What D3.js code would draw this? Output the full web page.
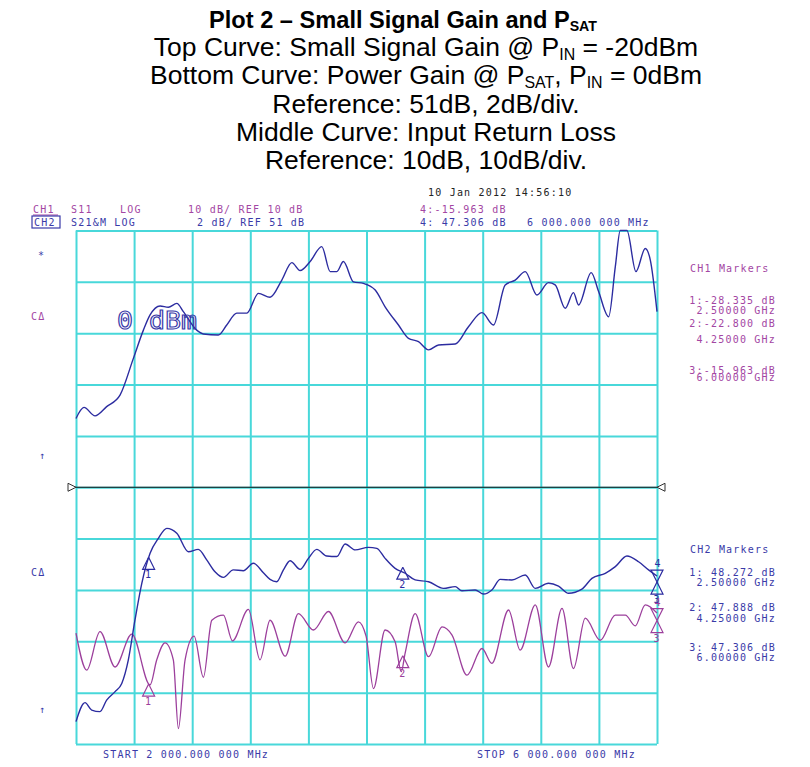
<!DOCTYPE html>
<html>
<head>
<meta charset="utf-8">
<script src="https://cdn.jsdelivr.net/npm/d3@7"></script>
<style>
  body { margin: 0; background: #fff; }
  svg { display: block; }
  .mono { font-family: "DejaVu Sans Mono", monospace; font-size: 10px; letter-spacing: 1.2px; }
  .cap { font-family: "Liberation Sans", Arial, sans-serif; }
</style>
</head>
<body>
<div id="chart"></div>
<script>
// frequency in GHz, values in dB
const topFreq = [2.000, 2.055, 2.131, 2.211, 2.303, 2.395, 2.464, 2.510, 2.579, 2.636, 2.694, 2.739, 2.831, 2.877,
  2.980, 3.038, 3.107, 3.176, 3.256, 3.336, 3.417, 3.486, 3.543, 3.612, 3.692, 3.750, 3.796, 3.841, 3.910, 3.979,
  4.060, 4.128, 4.220, 4.289, 4.358, 4.427, 4.496, 4.611, 4.702, 4.795, 4.874, 4.955, 5.024, 5.093, 5.173, 5.253,
  5.299, 5.368, 5.425, 5.460, 5.547, 5.598, 5.667, 5.713, 5.747, 5.793, 5.855, 5.919, 5.954, 6.000];
const topGain = [53.68, 54.11, 53.78, 54.14, 54.59, 56.02, 57.12, 57.71, 58.06, 58.01, 58.16, 57.84, 57.12, 56.97,
  56.93, 57.32, 57.78, 57.78, 58.55, 58.40, 59.07, 59.75, 59.44, 59.79, 60.37, 59.40, 59.40, 59.79, 59.00, 58.94,
  58.68, 58.03, 57.32, 56.80, 56.67, 56.35, 56.54, 56.58, 57.25, 57.80, 57.32, 58.88, 59.07, 59.40, 58.49, 58.97,
  58.88, 57.97, 58.58, 58.10, 59.36, 58.62, 57.64, 59.59, 61.00, 61.00, 59.40, 60.30, 59.85, 57.84];

const psatFreq = [2.000, 2.062, 2.108, 2.165, 2.211, 2.269, 2.315, 2.360, 2.406, 2.453, 2.510, 2.567, 2.625, 2.694,
  2.774, 2.842, 2.900, 2.957, 3.015, 3.083, 3.152, 3.221, 3.290, 3.336, 3.382, 3.428, 3.474, 3.543, 3.600, 3.658,
  3.726, 3.796, 3.853, 3.922, 4.013, 4.071, 4.128, 4.197, 4.266, 4.335, 4.427, 4.530, 4.611, 4.657, 4.748, 4.806,
  4.863, 4.921, 5.001, 5.093, 5.162, 5.253, 5.322, 5.391, 5.483, 5.552, 5.644, 5.713, 5.793, 5.873, 5.942, 6.000];
const psatGain = [41.87, 42.61, 42.32, 42.26, 42.71, 43.04, 43.36, 44.27, 45.83, 47.26, 48.43, 49.01, 49.40, 49.21,
  48.49, 48.58, 48.17, 47.71, 47.49, 47.78, 47.75, 48.04, 47.67, 47.41, 47.32, 47.78, 48.14, 47.80, 48.23, 48.58,
  48.32, 48.30, 48.79, 48.56, 48.66, 48.62, 48.23, 47.84, 47.65, 47.39, 47.32, 47.06, 47.13, 46.97, 47.00, 46.84,
  47.00, 47.41, 47.39, 47.58, 47.06, 47.26, 47.15, 46.87, 47.03, 47.45, 47.65, 47.91, 48.32, 48.10, 47.78, 47.54];

const rlFreq = [2.000, 2.074, 2.165, 2.269, 2.384, 2.510, 2.556, 2.613, 2.670, 2.705, 2.751, 2.813, 2.877, 2.935,
  3.015, 3.077, 3.187, 3.267, 3.336, 3.440, 3.531, 3.635, 3.738, 3.853, 3.944, 3.997, 4.048, 4.128, 4.197, 4.239,
  4.266, 4.335, 4.427, 4.520, 4.589, 4.692, 4.795, 4.863, 4.978, 5.058, 5.162, 5.253, 5.346, 5.425, 5.506, 5.609,
  5.713, 5.782, 5.850, 5.919, 6.000];
const rlLoss = [-18.4, -25.6, -18.1, -25.0, -18.6, -28.5, -23.6, -20.3, -23.6, -37.0, -23.6, -19.0, -27.0, -15.9,
  -14.9, -19.9, -13.8, -23.6, -15.9, -22.9, -14.6, -17.8, -14.2, -20.3, -16.2, -19.0, -29.2, -17.8, -20.1, -25.9,
  -22.3, -14.6, -23.0, -17.2, -18.8, -26.6, -21.4, -24.3, -13.9, -21.7, -12.9, -25.0, -13.6, -25.3, -15.5, -19.8,
  -14.9, -14.9, -17.0, -12.9, -14.5];

const markerFreq = [2.5, 4.25, 6.0];
const ch1Markers = [-28.335, -22.800, -15.963];
const ch2Markers = [48.272, 47.888, 47.306];
const markerFreqText = ["2.50000 GHz", "4.25000 GHz", "6.00000 GHz"];

const freqTicks = d3.range(0, 11).map(i => 2 + i * 0.4);
const gainTicks = d3.range(0, 11).map(i => 41 + i * 2);

const width = 810, height = 767;
const gridLeft = 76, gridRight = 657, gridTop = 230.5, gridBottom = 744;
const purple = "#9c3f9c", blue = "#2c2ca0", purpleText = "#a346a3", blueText = "#3a3aa8", cyan = "#48d8da";

const svg = d3.select("#chart").append("svg").attr("width", width).attr("height", height);

const x = d3.scaleLinear().domain([2, 6]).range([gridLeft, gridRight]);
const yGain = d3.scaleLinear().domain([41, 61]).range([gridBottom, gridTop]);
const yRL = d3.scaleLinear().domain([-40, 60]).range([gridBottom, gridTop]);

// title block
const titleLines = [
  {parts: [["Plot 2 \u2013 Small Signal Gain and P", false], ["SAT", true]], y: 28, cx: 403, bold: true, size: 23.6, sub: 3},
  {parts: [["Top Curve: Small Signal Gain @ P", false], ["IN", true], [" = -20dBm", false]], y: 56, cx: 426, size: 26.5, sub: 4},
  {parts: [["Bottom Curve: Power Gain @ P", false], ["SAT", true], [", P", false], ["IN", true], [" = 0dBm", false]], y: 84, cx: 426, size: 26.5, sub: 4},
  {parts: [["Reference: 51dB, 2dB/div.", false]], y: 113, cx: 426, size: 26.5},
  {parts: [["Middle Curve: Input Return Loss", false]], y: 141, cx: 426, size: 26.5},
  {parts: [["Reference: 10dB, 10dB/div.", false]], y: 169, cx: 426, size: 26.5}
];
titleLines.forEach(line => {
  const t = svg.append("text").attr("class", "cap")
    .attr("x", line.cx).attr("y", line.y).attr("text-anchor", "middle")
    .attr("font-size", line.size).attr("font-weight", line.bold ? "bold" : "normal").attr("fill", "#000");
  line.parts.forEach((p, i) => {
    const s = t.append("tspan").text(p[0]);
    if (p[1]) s.attr("font-size", line.size * 0.6).attr("dy", line.sub);
    else if (i > 0) s.attr("dy", -line.sub);
  });
});

// grid through axes
const gx = svg.append("g").attr("transform", "translate(0," + gridBottom + ")")
  .call(d3.axisBottom(x).tickValues(freqTicks).tickSize(-(gridBottom - gridTop)).tickFormat(""));
const gy = svg.append("g").attr("transform", "translate(" + gridLeft + ",0)")
  .call(d3.axisLeft(yGain).tickValues(gainTicks).tickSize(-(gridRight - gridLeft)).tickFormat(""));
[gx, gy].forEach(g => {
  g.select(".domain").remove();
  g.selectAll(".tick line").attr("stroke", cyan).attr("stroke-width", 2);
});

// reference line in the middle
const yRef = yGain(51);
svg.append("line").attr("x1", gridLeft - 6).attr("x2", gridRight + 6)
  .attr("y1", yRef).attr("y2", yRef).attr("stroke", "#111").attr("stroke-width", 1.2);
svg.append("path").attr("d", d3.line()([[gridLeft - 8, yRef - 4], [gridLeft - 8, yRef + 4], [gridLeft, yRef], [gridLeft - 8, yRef - 4]]))
  .attr("fill", "#fff").attr("stroke", "#333").attr("stroke-width", 1);
svg.append("path").attr("d", d3.line()([[gridRight + 8, yRef - 4], [gridRight + 8, yRef + 4], [gridRight, yRef], [gridRight + 8, yRef - 4]]))
  .attr("fill", "#fff").attr("stroke", "#333").attr("stroke-width", 1);

// traces
const lineGain = d3.line().x(d => x(d[0])).y(d => yGain(d[1])).curve(d3.curveMonotoneX);
const lineRL = d3.line().x(d => x(d[0])).y(d => yRL(d[1])).curve(d3.curveMonotoneX);

svg.append("path").datum(d3.zip(rlFreq, rlLoss)).attr("d", lineRL)
  .attr("fill", "none").attr("stroke", purple).attr("stroke-width", 1.3);
svg.append("path").datum(d3.zip(topFreq, topGain)).attr("d", lineGain)
  .attr("fill", "none").attr("stroke", blue).attr("stroke-width", 1.4);
svg.append("path").datum(d3.zip(psatFreq, psatGain)).attr("d", lineGain)
  .attr("fill", "none").attr("stroke", blue).attr("stroke-width", 1.4);

// "0 dBm" annotation drawn on the top trace
svg.append("text").attr("x", 117).attr("y", 329)
  .attr("font-family", "DejaVu Sans Mono, monospace").attr("font-size", 24)
  .attr("textLength", 80).attr("lengthAdjust", "spacingAndGlyphs")
  .attr("fill", "none").attr("stroke", "#3838a8").attr("stroke-width", 1.1)
  .text("0 dBm");

// markers
function upTri(cx, cy, color, label) {
  svg.append("path").attr("d", d3.line()([[cx, cy], [cx - 6, cy + 12], [cx + 6, cy + 12], [cx, cy]]))
    .attr("fill", "none").attr("stroke", color).attr("stroke-width", 1.2);
  svg.append("text").attr("class", "mono").attr("x", cx).attr("y", cy + 21).attr("text-anchor", "middle")
    .attr("fill", color).attr("letter-spacing", 0).text(label);
}
function downTri(cx, cy, color, label) {
  svg.append("path").attr("d", d3.line()([[cx, cy], [cx - 6, cy - 12], [cx + 6, cy - 12], [cx, cy]]))
    .attr("fill", "none").attr("stroke", color).attr("stroke-width", 1.2);
  svg.append("text").attr("class", "mono").attr("x", cx + 1).attr("y", cy - 15).attr("text-anchor", "middle")
    .attr("fill", color).attr("letter-spacing", 0).text(label);
}
markerFreq.forEach((f, i) => {
  upTri(x(f), yRL(ch1Markers[i]), purple, String(i + 1));
  upTri(x(f), yGain(ch2Markers[i]), blue, String(i + 1));
});
downTri(x(6), yRL(ch1Markers[2]), purple, "4");
downTri(x(6), yGain(ch2Markers[2]), blue, "4");

// analyzer annotation text
function mono(tx, ty, str, color, spacing, anchor) {
  return svg.append("text").attr("class", "mono").attr("x", tx).attr("y", ty)
    .attr("letter-spacing", spacing).attr("text-anchor", anchor || "start").attr("fill", color).text(str);
}
mono(428, 196, "10 Jan 2012  14:56:10", "#222", 2.3);
mono(33, 213, "CH1", purpleText, 1.9);
svg.append("line").attr("x1", 33).attr("x2", 58).attr("y1", 215).attr("y2", 215).attr("stroke", purpleText);
mono(71, 213, "S11", purpleText, 1.9);
mono(120, 213, "LOG", purpleText, 1.9);
mono(188, 213, "10 dB/ REF 10 dB", purpleText, 1.9);
svg.append("rect").attr("x", 32).attr("y", 216).attr("width", 28).attr("height", 12)
  .attr("fill", "none").attr("stroke", blueText).attr("stroke-width", 1.2);
mono(34, 226, "CH2", blueText, 1.9);
mono(71, 226, "S21&M LOG", blueText, 1.9);
mono(197, 226, "2 dB/ REF 51 dB", blueText, 1.9);
mono(420, 213, "4:-15.963 dB", purpleText, 1.2);
mono(420, 226, "4: 47.306 dB", blueText, 1.2);
mono(527, 226, "6 000.000 000 MHz", blueText, 1.3);

mono(690, 272, "CH1 Markers", purpleText, 1.7);
const ch1Y = [[304, 314], [327, 343], [374, 381]];
const ch2Y = [[576, 586], [611, 622], [651, 661]];
markerFreq.forEach((f, i) => {
  mono(776, ch1Y[i][0], (i + 1) + ":" + ch1Markers[i].toFixed(3) + " dB", purpleText, 0.8, "end");
  mono(776, ch1Y[i][1], markerFreqText[i], purpleText, 1.1, "end");
  mono(776, ch2Y[i][0], (i + 1) + ": " + ch2Markers[i].toFixed(3) + " dB", blueText, 0.8, "end");
  mono(776, ch2Y[i][1], markerFreqText[i], blueText, 1.1, "end");
});
mono(690, 553, "CH2 Markers", blueText, 1.7);

mono(38, 259, "*", blueText, 0);
mono(31, 320, "C\u0394", purpleText, 0.5);
mono(39, 459, "\u2191", blueText, 0);
mono(31, 576, "C\u0394", blueText, 0.5);
mono(39, 713, "\u2191", blueText, 0);

mono(103, 758, "START 2 000.000 000 MHz", blueText, 1.3);
mono(477, 758, "STOP 6 000.000 000 MHz", blueText, 1.3);
</script>
</body>
</html>
